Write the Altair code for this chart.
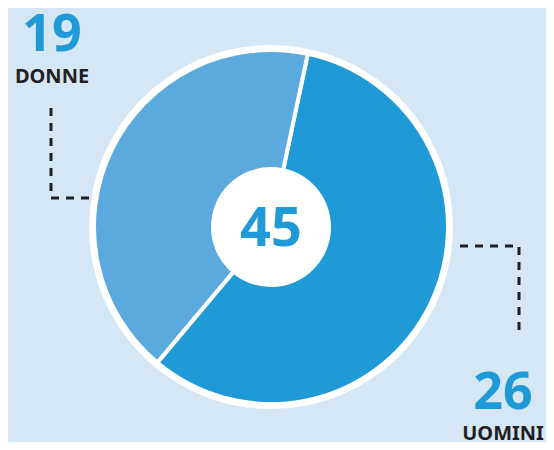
import math
import altair as alt
import pandas as pd

# ---- data ----
categories = ["UOMINI", "DONNE"]
values = [26, 19]
colors = ["#1f9ad6", "#5ba9dd"]
total = sum(values)

BG = "#d5e6f5"
DARK = "#231f20"
BLUE = "#1f9ad6"
FONT = "Noto Sans"

W, H = 538, 434
OFF = 8  # page margin
CX, CY = 271 - OFF, 227 - OFF
R_OUT, R_PIE, R_IN = 182, 177, 60
START = math.radians(12)

df = pd.DataFrame({"cat": categories, "val": values, "ord": [0, 1]})
one = pd.DataFrame({"v": [1]})

xs = alt.Scale(domain=[0, W], range=[0, W])
ys = alt.Scale(domain=[0, H], range=[0, H])

outer = alt.Chart(one).mark_arc(radius=R_OUT, theta=0, theta2=2 * math.pi, color="white").encode(
    x=alt.value(CX), y=alt.value(CY)
)

pie = alt.Chart(df).mark_arc(radius=R_PIE, stroke="white", strokeWidth=4).encode(
    theta=alt.Theta("val:Q", stack=True, scale=alt.Scale(range=[START, START + 2 * math.pi])),
    color=alt.Color("cat:N", scale=alt.Scale(domain=categories, range=colors), legend=None),
    order=alt.Order("ord:Q"),
    x=alt.value(CX),
    y=alt.value(CY),
)

inner = alt.Chart(one).mark_arc(radius=R_IN, theta=0, theta2=2 * math.pi, color="white").encode(
    x=alt.value(CX), y=alt.value(CY)
)

center_txt = alt.Chart(pd.DataFrame({"t": [str(total)]})).mark_text(
    font=FONT, fontWeight="bold", fontSize=54, color=BLUE, align="center", baseline="alphabetic"
).encode(x=alt.value(CX), y=alt.value(246 - OFF), text="t:N")

# label positions (page px)
lab = pd.DataFrame({
    "num": [str(values[1]), str(values[0])],
    "name": [categories[1], categories[0]],
    "x": [52 - OFF, 503 - OFF],
    "yn": [51 - OFF, 409 - OFF],
    "yl": [83 - OFF, 440 - OFF],
})

num_txt = alt.Chart(lab).mark_text(
    font=FONT, fontWeight="bold", fontSize=52, color=BLUE, align="center", baseline="alphabetic"
).encode(x=alt.X("x:Q", scale=xs, axis=None), y=alt.Y("yn:Q", scale=ys, axis=None), text="num:N")

name_txt = alt.Chart(lab).mark_text(
    font=FONT, fontWeight="bold", fontSize=20, color=DARK, align="center", baseline="alphabetic"
).encode(x=alt.X("x:Q", scale=xs, axis=None), y=alt.Y("yl:Q", scale=ys, axis=None), text="name:N")

lines = pd.DataFrame({
    "g": ["d", "d", "d", "u", "u", "u"],
    "i": [0, 1, 2, 0, 1, 2],
    "x": [51 - OFF, 51 - OFF, 90 - OFF, 460 - OFF, 519 - OFF, 519 - OFF],
    "y": [108 - OFF, 198 - OFF, 198 - OFF, 246 - OFF, 246 - OFF, 333 - OFF],
})
leaders = alt.Chart(lines).mark_line(color=DARK, strokeWidth=3, strokeDash=[8, 7]).encode(
    x=alt.X("x:Q", scale=xs, axis=None),
    y=alt.Y("y:Q", scale=ys, axis=None),
    detail="g:N",
    order="i:Q",
)

chart = alt.layer(outer, pie, inner, center_txt, leaders, num_txt, name_txt).properties(
    width=W, height=H, autosize=alt.AutoSizeParams(type="none"), padding=0, background=BG
).configure_view(stroke=None)

chart.save("out.html", embed_options={"renderer": "svg", "actions": False})
